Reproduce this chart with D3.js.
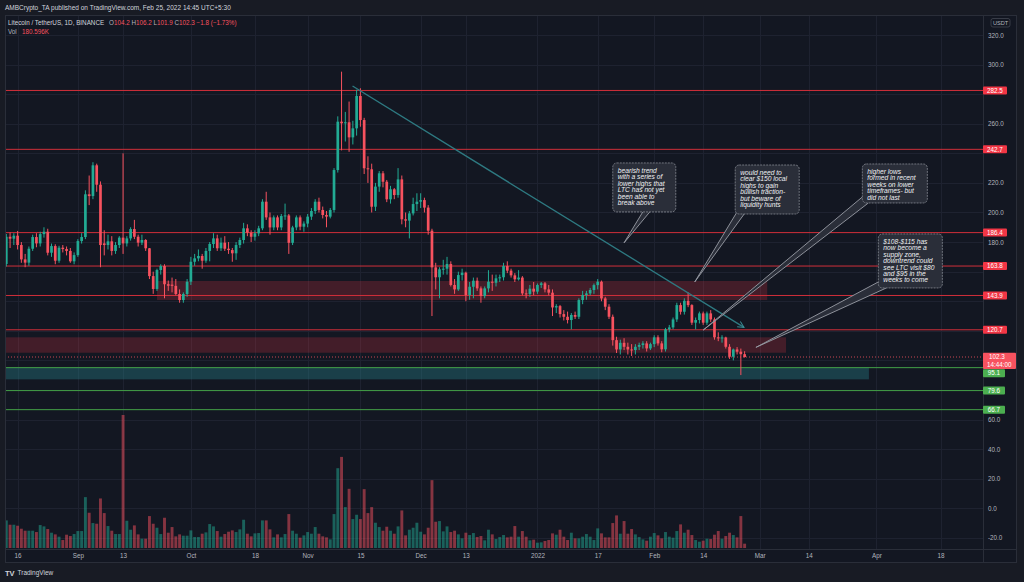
<!DOCTYPE html>
<html><head><meta charset="utf-8">
<script src="https://cdn.jsdelivr.net/npm/d3@7"></script>
<style>html,body{margin:0;padding:0;background:#181b24;}svg{display:block;font-family:"Liberation Sans",Arial,sans-serif;}</style>
</head><body>
<svg id="chart" width="1024" height="582"></svg>
<script>
// ---------------- data ----------------
const firstDay = "2021-08-13", lastDay = "2022-02-25";
const open = [
165.2,183.6,182.3,184.3,178,168.3,166.1,175.5,183.4,179.1,
185.4,187,172.8,177.3,167.4,176.2,175.3,174,167,171.2,
180.7,183.4,212.3,211.1,231.9,218.8,179.1,178,180.5,174,
178,183,179.1,182.5,188.8,183.6,179.6,181.4,175.8,157,
148.3,161.1,163.8,151.5,151.2,150.4,144.9,140.8,144.9,153.2,
166.7,169,170.6,167.4,174,178.7,182.5,175.8,179.6,175.5,
174.6,172.4,178,181.4,189.3,186.4,183.6,185.9,189.3,207.3,
196.7,189.9,196.7,189.9,197.6,198,179.5,189.9,196.7,190.4,
192.5,197.2,201,207.3,201.7,198.3,197.2,201.7,228.7,261.4,
260.3,261,250.8,256.9,278.8,262.5,229.9,229.2,203.9,217.5,
226.5,220.8,208.9,215.7,211.8,222.4,195.4,194.5,199.4,205.7,
207.3,208.4,203.3,187.7,162.9,156.2,161.6,162,165.2,151,
148,157.7,159.3,144.2,149.8,153.9,148.7,143.5,148.7,153.2,
152.5,155.5,156.2,163.8,160.7,157.5,154.8,156,145.3,144.9,
148.5,146.5,151,152.1,148,145.8,135.8,136.7,131.3,129.5,
127.3,130.7,129.5,140.8,144.2,145.3,147.6,150.9,153.2,141.9,
136.3,129.5,113.7,107.4,111.9,109.2,107.4,107,109.2,110.4,
111.5,108.1,111,115.6,111.5,107.5,121,122.3,127.7,137.4,
132.9,140.3,137.4,125.5,127.3,131.8,125.5,131.8,127.7,115.6,
114.9,115.5,109.2,102.5,107.4,105.9,104.2];
const high = [
185.5,186.5,186,187.5,180,172,177,185,186,187,
190,189,179,178.5,177.5,178,177,176,173,182,
186,215,225,234,233,221,188,185,184,180,
184,240,184,190,195,185,185,182,176,160,
162,165,165,154,156,155,148,146,155,170,
172,175,172,176,180,186,185,183,184,180,
176,180,183,193,192,188,188,191,209,214,
200,198,198,199,206,199,191,198,198,194,
199,203,209,210,204,201,203,230,265,295.2,
268,275,262,283,284,264,238,233,220,228,
228,222,218,216.5,230,225,200,201,210,213,
213,210,205,189,166,163,168,170,167,155,
160,162,160,153,156,156,150,150,161,158,
158,158,166,167,162,159,161,157,148,151,
153,152,153,153,151,148,138,137.5,134,133,
132,133,142,147,147,149,152,155,154,143,
138,131,116,114,115,112,111,111,112,113,
113,112,117,117,113,122,124,129,139,139,
142,146,138,129,133,133,133,134,129,119,
117,116,111,108,109,108,106.2];
const low = [
163.5,176,178,175,166,163,164,174,176.5,177,
183,171,170,165,166,173,171,166,165,170,
179,182,205,209,214,163,171,175,171,172,
176,172,177,181,182,177,178,174,155,145,
147,158,142,147,146,144,139,139,143,151,
164,167,162,166,167,176,174,174,174,172,
166.7,168,176,179,184,180,181,184,188,195,
185,188,188,188,195,172,178,188,188,187,
190,195,199,200,196,190,196,200,227,242,
248,241,246,252,258,226,220,200,201,214,
217,207,206,209,210,192,190,182.5,198,201,
203,200,185,130,148,142,158,158,150,145,
147,154,140,141,142,147,139,142,146,147,
150,153,154,159,156,153,154,144,142,143,
144,145,149,146,144,130,132,129,127,125,
121,128,128,138,141,144,145,148,140,134,
128,110,105,104,107,104,103,104,107,108,
106,107,109,110,105.5,106,119,121,126,131,
131,136,124,121,125,124,124,126,114,113,
112,108,101,100,104,90.1,101.9];
const close = [
183.6,182.3,184.3,178,168.3,166.1,175.5,183.4,179.1,185.4,
187,172.8,177.3,167.4,176.2,175.3,174,167,171.2,180.7,
183.4,212.3,211.1,231.9,218.8,178,178,180.5,174,178,
183,179.1,182.5,188.8,183.6,179.6,181.4,175.8,157,148.3,
161.1,163.8,151.5,150.5,150.4,144.9,140.8,144.9,153.2,166.7,
169,170.6,167.4,174,178.7,182.5,175.8,179.6,175.5,174.6,
172.4,178,181.4,189.3,186.4,183.6,185.9,189.3,207.3,196.7,
189.9,196.7,189.9,197.6,198,179.5,189.9,196.7,190.4,192.5,
197.2,201,207.3,201.7,198.3,197.2,201.7,228.7,261.4,260.3,
261,250.8,256.9,278.8,262.5,229.9,229.2,203.9,217.5,226.5,
220.8,208.9,215.7,211.8,222.4,195.4,194.5,199.4,205.7,207.3,
208.4,203.3,187.7,162.9,156.2,161.6,162,165.2,151,148,
157.7,159.3,144.2,149.8,153.9,148.7,143.5,148.7,153.2,152.5,
155.5,156.2,163.8,160.7,157.5,154.8,156,145.3,144.9,148.5,
146.5,151,152.1,148,145.8,135.8,136.7,131.3,129.5,127.3,
130.7,129.5,140.8,144.2,145.3,147.6,150.9,153.2,141.9,136.3,
129.5,113.7,107.4,111.9,109.2,107.4,107,109.2,110.4,111.5,
108.1,111,115.6,111.5,107.5,121,122.3,127.7,137.4,132.9,
140.3,137.4,125.5,127.3,131.8,125.5,131.8,127.7,115.6,114.9,
115.5,109.2,102.5,107.4,105.9,104.2,102.3];
const volumeK = [
1162,980,980,938,812,728,728,728,672,966,
910,798,644,574,476,336,560,504,588,714,
714,2142,1484,1050,1022,2086,1470,924,728,588,
588,5600,1148,770,952,574,392,392,1344,1022,
854,588,1274,644,882,490,574,518,518,742,
462,462,602,658,1008,910,714,476,588,686,
742,672,784,1190,602,490,616,630,1162,1162,
784,448,574,448,588,1428,728,602,434,532,
672,602,882,602,490,448,364,1428,3360,3836,
1722,2492,1218,1400,1218,2478,1470,1722,1064,882,
728,896,728,602,910,1582,532,770,854,1064,
686,574,854,2856,1106,1134,700,910,672,728,
574,406,644,546,630,462,504,322,770,574,
378,460,546,448,476,924,476,714,476,322,
350,224,238,294,336,616,560,770,476,336,
644,406,406,476,588,476,336,826,616,448,
448,1050,1372,602,1134,602,798,574,462,364,
308,476,630,532,406,672,476,434,714,994,
644,770,546,336,266,308,392,378,560,714,
392,504,644,546,448,1344,182];

const priceTickValues = [320,300,260,220,200,180,60,40,20,0,-20];
const gridPriceValues = [320,300,280,260,240,220,200,180,160,140,120,100,80,60,40,20,0,-20];
const timeTickDates = ["2021-08-16","2021-09-01","2021-09-13","2021-10-01","2021-10-18","2021-11-01","2021-11-15","2021-12-01","2021-12-13","2022-01-01","2022-01-17","2022-02-01","2022-02-14","2022-03-01","2022-03-14","2022-04-01","2022-04-18"];
const timeTickLabels = ["16","Sep","13","Oct","18","Nov","15","Dec","13","2022","17","Feb","14","Mar","14","Apr","18"];

const resistanceLevels = [282.5,242.7,186.4,163.8,143.9,120.7];
const supportLevels = [95.1,79.6,66.7];
const supportLabelPrice = [91.3,79.6,66.7];
const lastPrice = 102.3;

const redZones = [
  {start:"2021-09-22", end:"2022-03-03", top:153.7, bottom:140.8},
  {start:"2021-08-12", end:"2022-03-08", top:115.6, bottom:105.2}];
const tealZones = [{start:"2021-08-12", end:"2022-03-30", top:95.3, bottom:87.2}];
const trendStart = ["2021-11-12T22:00", 285.5];
const trendEnd = ["2022-02-24T20:00", 122.3];

const callouts = [
 {lines:["bearish trend","with a series of","lower highs that","LTC has not yet","been able to","break above"],
  boxAt:["2022-01-21", 233.5], size:[63,49], tipAt:["2022-01-24", 179.5], base:[[30,49],[37,49]]},
 {lines:["would need to","clear $150 local","highs to gain","bullish traction-","but beware of","liquidity hunts"],
  boxAt:["2022-02-22T12:00", 232.1], size:[64,49], tipAt:["2022-02-11T18:00", 153.0], base:[[3,45],[9,49]]},
 {lines:["higher lows","formed in recent","weeks on lower","timeframes- but","did not last"],
  boxAt:["2022-03-28T06:00", 232.8], size:[65,39], tipAt:["2022-02-14", 120.5], base:[[0,33],[6,39]]},
 {lines:["$108-$115 has","now become a","supply zone,","downtrend could","see LTC visit $80","and $95 in the","weeks to come"],
  boxAt:["2022-04-01T12:00", 185.5], size:[64,54], tipAt:["2022-02-28", 108.8], base:[[0,48],[8,54]]}
];

// ---------------- layout ----------------
const paneL = 5, paneR = 983, paneT = 15, paneB = 549, frameR = 1017, frameB = 563;
const svg = d3.select("#chart");
const P = d3.isoParse;
const days = d3.utcDay.range(P(firstDay), d3.utcDay.offset(P(lastDay), 1));
const candles = days.map((d, i) => ({d, o: open[i], h: high[i], l: low[i], c: close[i], v: volumeK[i]}));

const x = d3.scaleUtc().domain([P("2021-08-16"), P("2022-04-18")]).range([17.6, 940.5]);
const y = d3.scaleLinear().domain([320, -20]).range([35, 537.9]);
const vy = d3.scaleLinear().domain([0, 5600]).range([548, 415]);

const UP = "#22ab94", DOWN = "#f7525f";

svg.append("rect").attr("width", 1024).attr("height", 582).attr("fill", "#181b24");
svg.append("rect").attr("x", paneL).attr("y", paneT).attr("width", frameR - paneL).attr("height", frameB - paneT).attr("fill", "#131722");

svg.append("defs").append("clipPath").attr("id", "pane")
  .append("rect").attr("x", paneL).attr("y", paneT).attr("width", paneR - paneL).attr("height", paneB - paneT);
const defs = svg.select("defs");
defs.append("marker").attr("id", "arr").attr("viewBox", "0 0 8 8").attr("refX", 7).attr("refY", 4)
  .attr("markerWidth", 7).attr("markerHeight", 7).attr("orient", "auto").attr("markerUnits", "userSpaceOnUse")
  .append("path").attr("d", "M0,0.5 L7,4 L0,7.5").attr("fill", "none").attr("stroke", "#3a8e96").attr("stroke-width", 1.1);

const pane = svg.append("g").attr("clip-path", "url(#pane)");

// grid
pane.append("g").selectAll("line").data(gridPriceValues).join("line")
  .attr("x1", paneL).attr("x2", paneR).attr("y1", d => Math.round(y(d)) + 0.5).attr("y2", d => Math.round(y(d)) + 0.5)
  .attr("stroke", "#1e2230").attr("stroke-width", 1);
pane.append("g").selectAll("line").data(timeTickDates).join("line")
  .attr("y1", paneT).attr("y2", paneB).attr("x1", d => Math.round(x(P(d))) + 0.5).attr("x2", d => Math.round(x(P(d))) + 0.5)
  .attr("stroke", "#1e2230").attr("stroke-width", 1);

// zones
pane.append("g").selectAll("rect").data(redZones).join("rect")
  .attr("x", d => x(P(d.start))).attr("width", d => x(P(d.end)) - x(P(d.start)))
  .attr("y", d => y(d.top)).attr("height", d => y(d.bottom) - y(d.top))
  .attr("fill", "rgba(242,54,69,0.22)");
pane.append("g").selectAll("rect").data(tealZones).join("rect")
  .attr("x", d => x(P(d.start))).attr("width", d => x(P(d.end)) - x(P(d.start)))
  .attr("y", d => y(d.top)).attr("height", d => y(d.bottom) - y(d.top))
  .attr("fill", "rgba(41,140,150,0.34)");

// horizontal levels
pane.append("g").selectAll("line").data(resistanceLevels).join("line")
  .attr("x1", paneL).attr("x2", paneR).attr("y1", d => y(d)).attr("y2", d => y(d))
  .attr("stroke", "#d12f3a").attr("stroke-width", 1);
pane.append("g").selectAll("line").data(supportLevels).join("line")
  .attr("x1", paneL).attr("x2", paneR).attr("y1", d => y(d)).attr("y2", d => y(d))
  .attr("stroke", "#43a047").attr("stroke-width", 1);
pane.append("line").attr("x1", paneL).attr("x2", paneR).attr("y1", y(lastPrice)).attr("y2", y(lastPrice))
  .attr("stroke", DOWN).attr("stroke-width", 1).attr("stroke-dasharray", "1,2").attr("opacity", 0.8);

// volume
const bw = 2.9;
pane.append("g").selectAll("rect").data(candles).join("rect")
  .attr("x", d => x(d.d) - bw / 2).attr("width", bw)
  .attr("y", d => vy(d.v)).attr("height", d => vy(0) - vy(d.v))
  .attr("fill", d => d.c >= d.o ? UP : DOWN).attr("opacity", 0.5);

// candles
const cg = pane.append("g");
cg.selectAll("line").data(candles).join("line")
  .attr("x1", d => x(d.d)).attr("x2", d => x(d.d)).attr("y1", d => y(d.h)).attr("y2", d => y(d.l))
  .attr("stroke", d => d.c >= d.o ? UP : DOWN).attr("stroke-width", 1);
const cw = 2.7;
cg.selectAll("rect").data(candles).join("rect")
  .attr("x", d => x(d.d) - cw / 2).attr("width", cw)
  .attr("y", d => y(Math.max(d.o, d.c))).attr("height", d => Math.max(1, Math.abs(y(d.o) - y(d.c))))
  .attr("fill", d => d.c >= d.o ? UP : DOWN);

// trend line
pane.append("line")
  .attr("x1", x(P(trendStart[0]))).attr("y1", y(trendStart[1]))
  .attr("x2", x(P(trendEnd[0]))).attr("y2", y(trendEnd[1]))
  .attr("stroke", "#2e7a82").attr("stroke-width", 1.3).attr("marker-end", "url(#arr)");

// callouts
const cgrp = svg.append("g");
callouts.forEach(c => {
  const bx = x(P(c.boxAt[0])), by = y(c.boxAt[1]);
  const tx = x(P(c.tipAt[0])), ty = y(c.tipAt[1]);
  const [w, h] = c.size;
  const g = cgrp.append("g");
  const a = [bx + c.base[0][0], by + c.base[0][1]], b = [bx + c.base[1][0], by + c.base[1][1]];
  g.append("path").attr("d", `M${a[0]},${a[1]} L${tx},${ty} L${b[0]},${b[1]} Z`)
    .attr("fill", "#2a2e39").attr("stroke", "none");
  g.append("path").attr("d", `M${a[0]},${a[1]} L${tx},${ty} L${b[0]},${b[1]}`)
    .attr("fill", "none").attr("stroke", "#9a9da6").attr("stroke-width", 0.9);
  g.append("rect").attr("x", bx).attr("y", by).attr("width", w).attr("height", h).attr("rx", 4)
    .attr("fill", "#2a2e39").attr("stroke", "#878a93").attr("stroke-width", 0.8).attr("stroke-dasharray", "2,1");
  g.append("text").attr("font-size", 6.7).attr("font-style", "italic").attr("fill", "#f0f1f3")
    .selectAll("tspan").data(c.lines).join("tspan")
    .attr("x", bx + 5).attr("y", (d, i) => by + 10 + i * 6.4).text(d => d);
});

// frame lines
svg.append("line").attr("x1", paneR + 0.5).attr("x2", paneR + 0.5).attr("y1", paneT).attr("y2", frameB).attr("stroke", "#2a2e39");
svg.append("line").attr("x1", paneL).attr("x2", frameR).attr("y1", paneB + 0.5).attr("y2", paneB + 0.5).attr("stroke", "#2a2e39");
svg.append("rect").attr("x", paneL + 0.5).attr("y", paneT + 0.5).attr("width", frameR - paneL - 1).attr("height", frameB - paneT - 1)
  .attr("fill", "none").attr("stroke", "#2a2e39");

// price axis
const yAxis = d3.axisRight(y).tickValues(priceTickValues).tickFormat(d => d3.format(".1f")(d).replace("\u2212", "-")).tickSize(0).tickPadding(5);
const ya = svg.append("g").attr("transform", `translate(${paneR},0)`).call(yAxis);
ya.select(".domain").remove();
ya.selectAll("text").attr("fill", "#b2b5be").attr("font-size", 6.3).attr("font-family", "Liberation Sans, Arial, sans-serif");

// time axis
const xAxis = d3.axisBottom(x).tickValues(timeTickDates.map(P)).tickFormat((d, i) => timeTickLabels[i]).tickSize(0).tickPadding(4.5);
const xa = svg.append("g").attr("transform", `translate(0,${paneB})`).call(xAxis);
xa.select(".domain").remove();
xa.selectAll("text").attr("fill", "#b2b5be").attr("font-size", 6.3).attr("font-family", "Liberation Sans, Arial, sans-serif");

// level labels
const lab = svg.append("g").attr("font-size", 6.3).attr("fill", "#fff");
resistanceLevels.forEach(v => {
  lab.append("rect").attr("x", paneR).attr("y", y(v) - 4).attr("width", 24).attr("height", 8).attr("rx", 1).attr("fill", "#f23645");
  lab.append("text").attr("x", paneR + 12).attr("y", y(v) + 2.2).attr("text-anchor", "middle").text(v.toFixed(1));
});
supportLevels.forEach((v, i) => {
  const cy = y(supportLabelPrice[i]);
  lab.append("rect").attr("x", paneR).attr("y", cy - 4).attr("width", 22).attr("height", 8).attr("rx", 1).attr("fill", "#4caf50");
  lab.append("text").attr("x", paneR + 11).attr("y", cy + 2.2).attr("text-anchor", "middle").text(v.toFixed(1));
});
{
  const cy = y(lastPrice);
  lab.append("rect").attr("x", paneR).attr("y", cy - 4.3).attr("width", 33).attr("height", 16.3).attr("rx", 1).attr("fill", DOWN);
  lab.append("text").attr("x", paneR + 6).attr("y", cy + 2.2).text(lastPrice.toFixed(1));
  lab.append("text").attr("x", paneR + 4).attr("y", cy + 10.2).text("14:44:00");
}
// USDT tag
svg.append("rect").attr("x", 991).attr("y", 18.5).attr("width", 19).attr("height", 8.5).attr("rx", 2)
  .attr("fill", "#131722").attr("stroke", "#434651").attr("stroke-width", 0.8);
svg.append("text").attr("x", 1000.5).attr("y", 24.8).attr("text-anchor", "middle").attr("font-size", 5.6).attr("fill", "#b2b5be").text("USDT");

// header
svg.append("text").attr("x", 5).attr("y", 9.5).attr("font-size", 6.5).attr("fill", "#d1d4dc")
  .text("AMBCrypto_TA published on TradingView.com, Feb 25, 2022 14:45 UTC+5:30");
const leg = svg.append("text").attr("y", 24.6).attr("font-size", 6.3);
leg.append("tspan").attr("x", 8).attr("fill", "#d1d4dc").text("Litecoin / TetherUS, 1D, BINANCE");
const legParts = [["O", "104.2"], [" H", "106.2"], [" L", "101.9"], [" C", "102.3"]];
legParts.forEach((p, i) => {
  const t = leg.append("tspan").attr("fill", "#b2b5be").text(p[0]);
  if (i === 0) t.attr("x", 109);
  leg.append("tspan").attr("fill", DOWN).text(p[1]);
});
leg.append("tspan").attr("fill", DOWN).text(" \u22121.8 (\u22121.73%)");
const vl = svg.append("text").attr("y", 34).attr("font-size", 6.3);
vl.append("tspan").attr("x", 8).attr("fill", "#b2b5be").text("Vol");
vl.append("tspan").attr("x", 22).attr("fill", DOWN).text("180.596K");

// footer logo
svg.append("text").attr("x", 5).attr("y", 575.5).attr("font-size", 7.5).attr("font-weight", "bold").attr("fill", "#d1d4dc").text("TV");
svg.append("text").attr("x", 17.5).attr("y", 575.3).attr("font-size", 6.5).attr("fill", "#d1d4dc").text("TradingView");
</script>
</body></html>
